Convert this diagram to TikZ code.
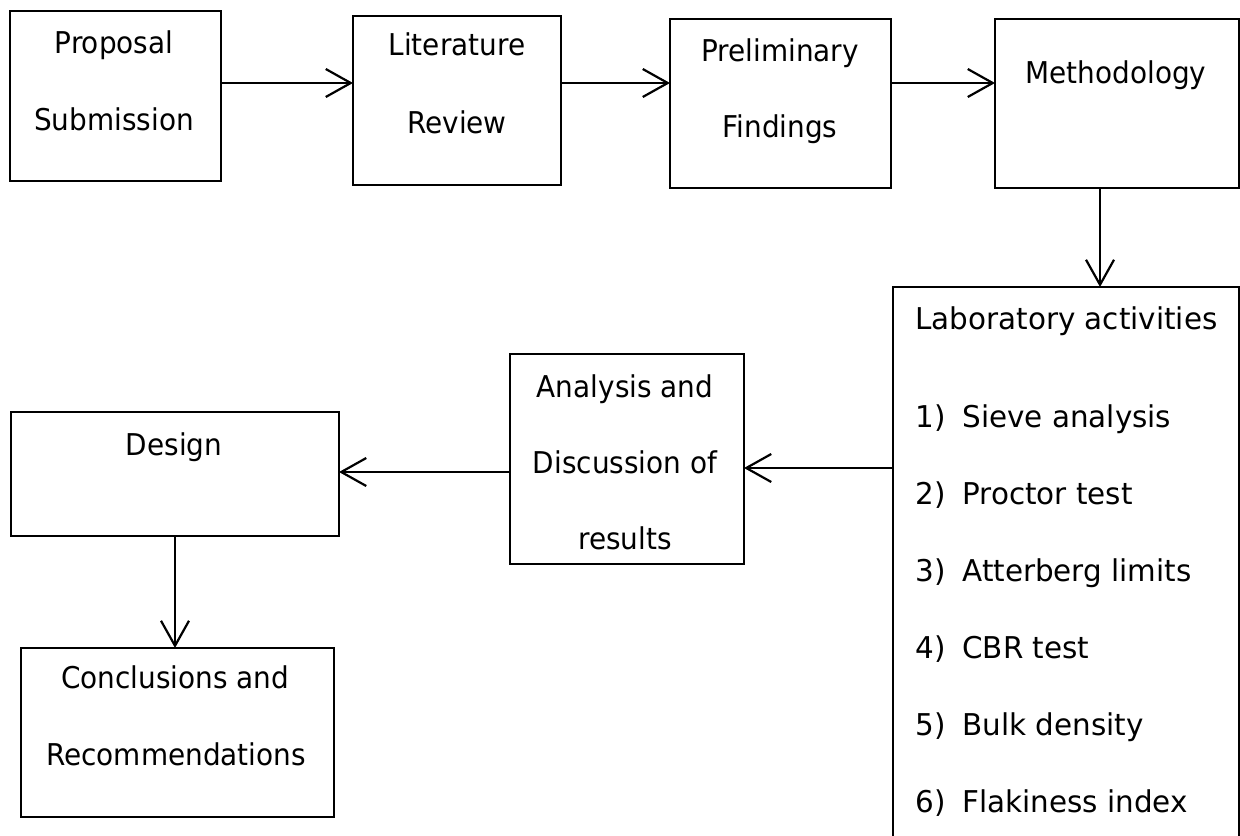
\documentclass[tikz,border=0pt]{standalone}
\usepackage{fontspec}
\setmainfont{DejaVu Sans}
\newfontfamily\nfont[FakeStretch=0.93]{DejaVu Sans}
\newfontfamily\lfont[FakeStretch=0.98]{DejaVu Sans}
\usetikzlibrary{arrows.meta}
\begin{document}
\begin{tikzpicture}[x=0.5pt,y=-0.5pt,
  box/.style={draw, line width=1.1pt, inner sep=0pt, outer sep=0pt},
  ntxt/.style={font=\nfont\fontsize{15}{18}\selectfont, anchor=base, inner sep=0pt},
  ltxt/.style={font=\lfont\fontsize{15}{18}\selectfont, anchor=base west, inner sep=0pt},
  arr/.style={line width=1.1pt, -{Straight Barb[length=12.5pt,width=14pt,line width=1.1pt]}}]
\useasboundingbox (0,0) rectangle (1240,835);
% boxes
\node[box, minimum width=105.5pt, minimum height=85pt] (prop) at (115.5,96) {};
\node[box, minimum width=104pt, minimum height=84.5pt] (lit) at (457,100.5) {};
\node[box, minimum width=110.5pt, minimum height=84.5pt] (prel) at (780.5,103.5) {};
\node[box, minimum width=122pt, minimum height=84.5pt] (meth) at (1117,103.5) {};
\node[box, minimum width=173pt, minimum height=291.5pt] (lab) at (1066,578.5) {};
\node[box, minimum width=117pt, minimum height=105pt] (ana) at (627,459) {};
\node[box, minimum width=164pt, minimum height=62pt] (des) at (175,474) {};
\node[box, minimum width=156.5pt, minimum height=84.5pt] (con) at (177.5,732.5) {};
% texts
\node[ntxt] (t1) at (114,53) {Proposal};
\node[ntxt] (t2) at (114,130) {Submission};
\node[ntxt] (t3) at (457,55) {Literature};
\node[ntxt] (t4) at (457,133) {Review};
\node[ntxt] (t5) at (780,61) {Preliminary};
\node[ntxt] (t6) at (780,137) {Findings};
\node[ntxt] (t7) at (1116,83) {Methodology};
\node[ntxt] (t8) at (625,397) {Analysis and};
\node[ntxt] (t9) at (625,473) {Discussion of};
\node[ntxt] (t10) at (625,549) {results};
\node[ntxt] (t11) at (174,455) {Design};
\node[ntxt] (t12) at (175,688) {Conclusions and};
\node[ntxt] (t13) at (176,765) {Recommendations};
\node[ltxt] (l0) at (915,329) {Laboratory activities};
\node[ltxt] (l1) at (915,427) {\makebox[23.5pt][l]{1)}Sieve analysis};
\node[ltxt] (l2) at (915,504) {\makebox[23.5pt][l]{2)}Proctor test};
\node[ltxt] (l3) at (915,581) {\makebox[23.5pt][l]{3)}Atterberg limits};
\node[ltxt] (l4) at (915,658) {\makebox[23.5pt][l]{4)}CBR test};
\node[ltxt] (l5) at (915,735) {\makebox[23.5pt][l]{5)}Bulk density};
\node[ltxt] (l6) at (915,812) {\makebox[23.5pt][l]{6)}Flakiness index};
% guide coordinates
\coordinate (r1) at (0,83);
\coordinate (r2) at (0,468);
\coordinate (r3) at (0,472);
\coordinate (c1) at (1100,0);
\coordinate (c2) at (175,0);
% connectors
\draw[arr] (prop.east |- r1) -- (lit.west |- r1);
\draw[arr] (lit.east |- r1) -- (prel.west |- r1);
\draw[arr] (prel.east |- r1) -- (meth.west |- r1);
\draw[arr] (meth.south -| c1) -- (lab.north -| c1);
\draw[arr] (lab.west |- r2) -- (ana.east |- r2);
\draw[arr] (ana.west |- r3) -- (des.east |- r3);
\draw[arr] (des.south -| c2) -- (con.north -| c2);
\end{tikzpicture}
\end{document}
